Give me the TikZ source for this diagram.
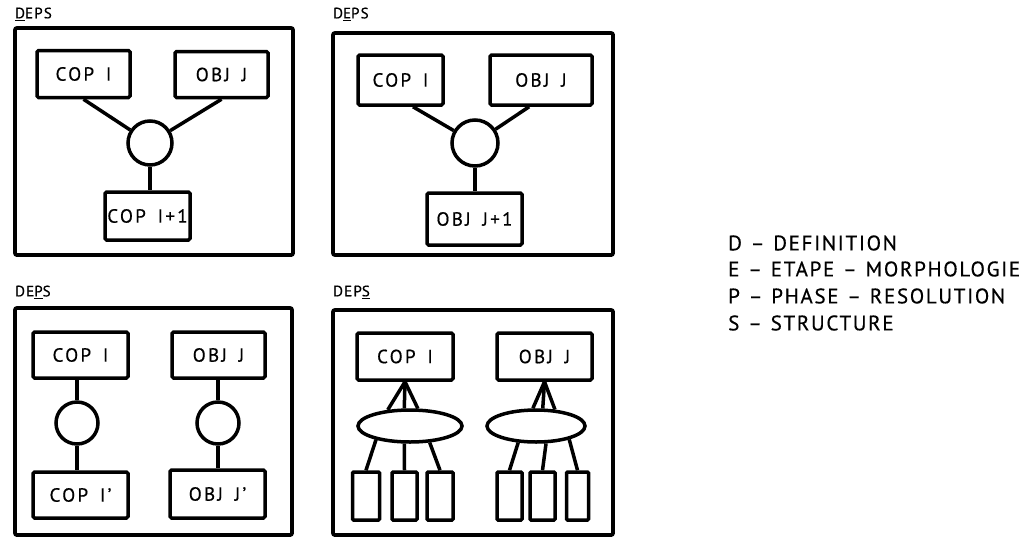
\documentclass[tikz,border=0pt]{standalone}
\usepackage{fontspec}
\setmainfont{PT Sans}[LetterSpace=12, WordSpace=1.6, FakeBold=0.6]
\newfontfamily\legendfont{PT Sans}[LetterSpace=8, WordSpace=1.2, FakeBold=0.5]
\newfontfamily\tagfont{PT Sans}[LetterSpace=8, FakeBold=0.6]
\usetikzlibrary{shapes.geometric}
\begin{document}
\begin{tikzpicture}[x=1pt,y=-1pt,
  every node/.style={font=\fontsize{19}{21}\selectfont},
  frame/.style={draw, line width=3.8pt, rounded corners=2pt, inner sep=0pt},
  box/.style={draw, line width=3.5pt, rounded corners=1.5pt, inner sep=0pt},
  ring/.style={draw, circle, line width=3.5pt, inner sep=0pt},
  oval/.style={draw, ellipse, line width=3.5pt, inner sep=0pt},
  cell/.style={draw, line width=3.5pt, rounded corners=1pt, inner sep=0pt, minimum height=48},
  link/.style={line width=3.5pt},
  tag/.style={anchor=west, inner sep=0pt, font=\tagfont\fontsize{15}{17}\selectfont},
  legend/.style={anchor=west, inner sep=0pt, font=\legendfont\fontsize{21}{24}\selectfont}]
\useasboundingbox (0,0) rectangle (1025,544);

% ---------- panel 1
\node[tag] (t1) at (15,14) {\underline{D}EPS};
\node[frame, minimum width=278, minimum height=227] (f1) at (154,141.5) {};
\node[box, minimum width=93, minimum height=47] (a1) at (83.5,74) {COP I\hspace{15pt}};
\node[box, minimum width=93, minimum height=46] (b1) at (221.5,74.5) {OBJ J\hspace{36pt}};
\node[ring, minimum size=44] (c1) at (150,143) {};
\node[box, minimum width=85, minimum height=48] (d1) at (147.5,216) {COP I+1};
\draw[link] (a1.south) -- (c1);
\draw[link] (b1.south) -- (c1);
\draw[link] (c1.south) -- (c1.south |- d1.north);

% ---------- panel 2
\node[tag] (t2) at (333,14) {D\underline{E}PS};
\node[frame, minimum width=280, minimum height=222] (f2) at (473,144) {};
\node[box, minimum width=85, minimum height=50] (a2) at (400.5,80) {COP I\hspace{10pt}};
\node[box, minimum width=102, minimum height=50] (b2) at (541,80) {OBJ J\hspace{26pt}};
\node[ring, minimum size=46] (c2) at (475,143) {};
\node[box, minimum width=95, minimum height=52] (d2) at (474.5,219) {OBJ J+1\hspace{7pt}};
\draw[link] (a2.-65) -- (c2);
\draw[link] (b2.-114) -- (c2);
\draw[link] (c2.south) -- (c2.south |- d2.north);

% ---------- panel 3
\node[tag] (t3) at (15,292) {DE\underline{P}S};
\node[frame, minimum width=277, minimum height=227] (f3) at (153.5,421.5) {};
\node[box, minimum width=95, minimum height=46] (a3) at (80.5,355) {COP I\hspace{8pt}};
\node[box, minimum width=93, minimum height=46] (b3) at (218.5,355) {OBJ J\hspace{35pt}};
\node[ring, minimum size=42] (c3) at (77,423) {};
\node[ring, minimum size=42] (g3) at (218,423) {};
\node[box, minimum width=95, minimum height=46] (d3) at (80.5,495) {COP I’\hspace{17pt}};
\node[box, minimum width=95, minimum height=48] (e3) at (217.5,494) {OBJ J’\hspace{19pt}};
\draw[link] (c3.north |- a3.south) -- (c3.north);
\draw[link] (c3.south) -- (c3.south |- d3.north);
\draw[link] (g3.north |- b3.south) -- (g3.north);
\draw[link] (g3.south) -- (g3.south |- e3.north);

% ---------- panel 4
\node[tag] (t4) at (333,292) {DEP\underline{S}};
\node[frame, minimum width=280, minimum height=225] (f4) at (473,422.5) {};
\node[box, minimum width=96, minimum height=47] (a4) at (405,356.5) {COP I\hspace{9pt}};
\node[box, minimum width=95, minimum height=47] (b4) at (544.5,356.5) {OBJ J\hspace{33pt}};
\node[oval, minimum width=104, minimum height=32] (e4) at (410,426) {};
\node[oval, minimum width=98, minimum height=32] (h4) at (536,426) {};
\node[cell, minimum width=27] (r1) at (366,496) {};
\node[cell, minimum width=25] (r2) at (404.5,496) {};
\node[cell, minimum width=26] (r3) at (440,496) {};
\node[cell, minimum width=25] (s1) at (509.5,496) {};
\node[cell, minimum width=25] (s2) at (542.5,496) {};
\node[cell, minimum width=22] (s3) at (577.5,496) {};
\draw[link] (a4.south) -- (e4.144);
\draw[link] (a4.south) -- (e4.108);
\draw[link] (a4.south) -- (e4.66);
\draw[link] (e4.202) -- (r1.north);
\draw[link] (e4.252) -- (r2.north);
\draw[link] (e4.320) -- (r3.north);
\draw[link] (b4.south) -- (h4.100);
\draw[link] (b4.south) -- (h4.69);
\draw[link] (b4.south) -- (h4.41);
\draw[link] (h4.223) -- (s1.north);
\draw[link] (h4.300) -- (s2.north);
\draw[link] (h4.338) -- (s3.north);

% ---------- legend
\node[legend] (l1) at (728,243) {D – DEFINITION};
\node[legend] (l2) at (728,269) {E – ETAPE – MORPHOLOGIE};
\node[legend] (l3) at (728,296) {P – PHASE – RESOLUTION};
\node[legend] (l4) at (728,323) {S – STRUCTURE};
\end{tikzpicture}
\end{document}
